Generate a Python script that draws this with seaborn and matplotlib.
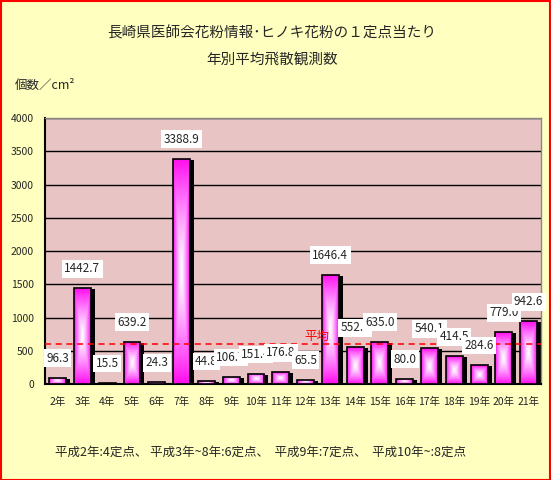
import numpy as np
import pandas as pd
import matplotlib.pyplot as plt
import matplotlib.transforms as mtransforms
from matplotlib.patches import Rectangle
import seaborn as sns

#%% data
years = ["2年", "3年", "4年", "5年", "6年", "7年", "8年", "9年", "10年", "11年",
         "12年", "13年", "14年", "15年", "16年", "17年", "18年", "19年", "20年", "21年"]
counts = [96.3, 1442.7, 15.5, 639.2, 24.3, 3388.9, 44.8, 106.7, 151.4, 176.8,
          65.5, 1646.4, 552.4, 635.0, 80.0, 540.1, 414.5, 284.6, 779.0, 942.6]
yticks = [0, 500, 1000, 1500, 2000, 2500, 3000, 3500, 4000]

df = pd.DataFrame({"year": years, "count": counts})

#%% style
sns.set_style("white")
plt.rcParams['font.family'] = ['Noto Sans CJK JP', 'DejaVu Sans']

bg = "#FFFFC0"
fig = plt.figure(figsize=(5.51, 4.80), dpi=100, facecolor=bg)
ax = fig.add_axes([0.082, 0.2, 0.9, 0.554])
ax.set_facecolor("#E8C4C4")

sns.barplot(data=df, x="year", y="count", color="#FF33FF", width=0.68,
            edgecolor="black", linewidth=1.2, ax=ax, zorder=3)

# shadow + gradient fill for each bar
shadow_tr = mtransforms.offset_copy(ax.transData, fig=fig, x=4, y=-1, units='dots')
u = np.linspace(-1, 1, 60)
U, V = np.meshgrid(u, u)
grad = np.maximum(np.abs(U), np.abs(V)) ** 1.2
cmap = sns.blend_palette(["#FFFFFF", "#FF88FF", "#FF11EE"], as_cmap=True)
for p in ax.patches:
    x0, y0 = p.get_x(), p.get_y()
    w, h = p.get_width(), p.get_height()
    ax.add_patch(Rectangle((x0, y0), w, h, facecolor="black", edgecolor="none",
                           transform=shadow_tr, zorder=2, clip_on=True))
    im = ax.imshow(grad, cmap=cmap, extent=[x0, x0 + w, y0, y0 + h],
                   aspect="auto", zorder=3.5, interpolation="bilinear")
    im.set_clip_path(p)
    p.set_zorder(4)
    p.set_facecolor("none")

# value labels
for i, v in enumerate(counts):
    ax.annotate(f"{v:.1f}", (i, v), xytext=(0, 14), textcoords="offset points",
                ha="center", va="center", fontsize=8.5, zorder=6,
                bbox=dict(boxstyle="square,pad=0.2", fc="white", ec="none"))

# mean line
mean_v = np.mean(counts)
ax.axhline(mean_v, color="red", ls=(0, (4, 3)), lw=1.1, zorder=5)
ax.text(10.45, mean_v + 15, "平均", color="red", fontsize=9, ha="center",
        va="bottom", zorder=5)

ax.set_ylim(0, 4000)
ax.set_xlim(-0.5, len(years) - 0.5)
ax.set_yticks(yticks)
ax.set_yticklabels([str(t) for t in yticks], fontsize=7.5)
ax.yaxis.grid(True, color="black", lw=1)
ax.set_axisbelow(True)
ax.tick_params(axis="x", labelsize=7.5, length=0, pad=9)
ax.tick_params(axis="y", length=0, pad=8)
ax.set_xlabel("")
ax.set_ylabel("")
for s in ["left", "bottom"]:
    ax.spines[s].set_color("black")
    ax.spines[s].set_linewidth(1.5)
for s in ["top", "right"]:
    ax.spines[s].set_color("#888888")
    ax.spines[s].set_linewidth(1)

#%% texts
fig.text(0.494, 0.930, "長崎県医師会花粉情報･ヒノキ花粉の１定点当たり", ha="center",
         va="center", fontsize=10.5)
fig.text(0.494, 0.875, "年別平均飛散観測数", ha="center", va="center", fontsize=10.5)
fig.text(0.027, 0.823, "個数／cm²", ha="left", va="center", fontsize=9)
fig.text(0.10, 0.058, "平成2年:4定点、 平成3年~8年:6定点、  平成9年:7定点、  平成10年~:8定点",
         ha="left", va="center", fontsize=9)

fig.add_artist(Rectangle((0.001, 0.001), 0.997, 0.997, transform=fig.transFigure,
                         fill=False, edgecolor="red", lw=1.5))

plt.savefig("out.png", dpi=100, facecolor=bg)
